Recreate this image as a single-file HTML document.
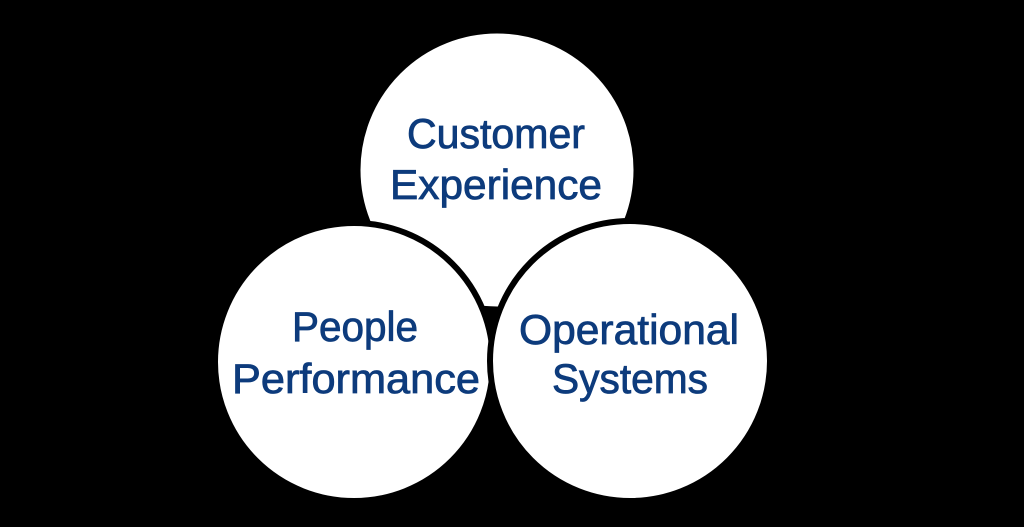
<!DOCTYPE html>
<html><head><style>html,body{margin:0;padding:0;background:#000;}svg{display:block}</style></head>
<body>
<svg width="1024" height="527" viewBox="0 0 1024 527" xmlns="http://www.w3.org/2000/svg">
<rect width="1024" height="527" fill="#000"/>
<circle cx="497" cy="170" r="139" fill="#fff" stroke="#000" stroke-width="5"/>
<circle cx="354" cy="362" r="139" fill="#fff" stroke="#000" stroke-width="6"/>
<circle cx="630" cy="361" r="140" fill="#fff" stroke="#000" stroke-width="6"/>
<g font-family="Liberation Sans, sans-serif" font-size="42" fill="#0d3b7c" stroke="#0d3b7c" stroke-width="0.8" text-anchor="middle">
<text x="496" y="148" textLength="178" lengthAdjust="spacingAndGlyphs">Customer</text>
<text x="496" y="199" textLength="212" lengthAdjust="spacingAndGlyphs">Experience</text>
<text x="355" y="341" textLength="126" lengthAdjust="spacingAndGlyphs">People</text>
<text x="356" y="393" textLength="248" lengthAdjust="spacingAndGlyphs">Performance</text>
<text x="629" y="344" textLength="220" lengthAdjust="spacingAndGlyphs">Operational</text>
<text x="630" y="393" textLength="156" lengthAdjust="spacingAndGlyphs">Systems</text>
</g>
</svg>
</body></html>
